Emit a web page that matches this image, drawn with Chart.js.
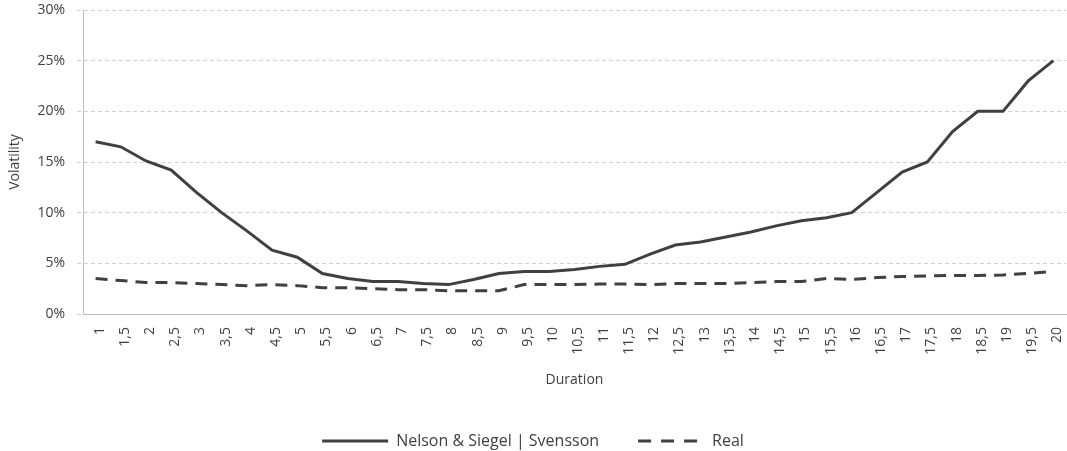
<!DOCTYPE html>
<html>
<head>
<meta charset="utf-8">
<script src="https://cdn.jsdelivr.net/npm/chart.js@4/dist/chart.umd.min.js"></script>
<style>
  html, body { margin: 0; padding: 0; background: #fff; }
  #wrap { width: 1067px; height: 451px; }
</style>
</head>
<body>
<div id="wrap"><canvas id="chart"></canvas></div>
<script>
// Durations (years), labels as printed with comma decimals
const durations = ["1", "1,5", "2", "2,5", "3", "3,5", "4", "4,5", "5", "5,5",
  "6", "6,5", "7", "7,5", "8", "8,5", "9", "9,5", "10", "10,5",
  "11", "11,5", "12", "12,5", "13", "13,5", "14", "14,5", "15", "15,5",
  "16", "16,5", "17", "17,5", "18", "18,5", "19", "19,5", "20"];

// Volatility in percent
const nelsonSiegel = [17.0, 16.5, 15.1, 14.2, 12.0, 10.0, 8.2, 6.3, 5.6, 4.0,
  3.5, 3.2, 3.2, 3.0, 2.9, 3.4, 4.0, 4.2, 4.2, 4.4,
  4.7, 4.9, 5.9, 6.8, 7.1, 7.6, 8.1, 8.7, 9.2, 9.5,
  10.0, 12.0, 14.0, 15.0, 18.0, 20.0, 20.0, 23.0, 25.0];

const real = [3.5, 3.3, 3.1, 3.1, 3.0, 2.9, 2.8, 2.9, 2.8, 2.6,
  2.6, 2.5, 2.4, 2.4, 2.3, 2.3, 2.3, 2.9, 2.9, 2.9,
  2.95, 2.95, 2.9, 3.0, 3.0, 3.0, 3.1, 3.2, 3.2, 3.5,
  3.4, 3.6, 3.7, 3.75, 3.8, 3.8, 3.85, 4.0, 4.2];

const yTicks = [0, 5, 10, 15, 20, 25, 30];

const textColor = "#404040";
const lineColor = "#404040";
const font = { family: "'Open Sans', sans-serif", size: 14 };

// legend samples: solid line and dashed line
const legendDashes = [[], [13, 10]];

const ctx = document.getElementById("chart").getContext("2d");
new Chart(ctx, {
  type: "line",
  data: {
    labels: durations,
    datasets: [
      {
        label: "Nelson & Siegel | Svensson",
        data: nelsonSiegel,
        borderColor: lineColor,
        backgroundColor: lineColor,
        borderWidth: 3,
        pointRadius: 0,
        tension: 0,
      },
      {
        label: "Real",
        data: real,
        borderColor: lineColor,
        backgroundColor: lineColor,
        borderWidth: 3,
        borderDash: [12, 8],
        pointRadius: 0,
        tension: 0,
      },
    ],
  },
  options: {
    responsive: true,
    maintainAspectRatio: false,
    animation: false,
    layout: { padding: { top: 10, right: 1, left: 0, bottom: -8 } },
    plugins: {
      tooltip: { enabled: false },
      legend: {
        position: "bottom",
        labels: {
          color: textColor,
          font: { family: font.family, size: 16 },
          usePointStyle: true,
          pointStyle: "line",
          pointStyleWidth: 66,
          boxWidth: 66,
          boxHeight: 12,
          padding: 39,
          generateLabels: (chart) => {
            const items = Chart.defaults.plugins.legend.labels.generateLabels(chart);
            items.forEach((item, i) => {
              item.lineDash = legendDashes[i];
              item.lineWidth = 3;
              item.strokeStyle = lineColor;
            });
            return items;
          },
        },
      },
    },
    scales: {
      x: {
        offset: true,
        grid: { display: false, drawTicks: false },
        border: { display: true, color: "#bfbfbf", width: 1 },
        ticks: {
          color: textColor,
          font: font,
          minRotation: 90,
          maxRotation: 90,
          autoSkip: false,
          padding: 13,
          labelOffset: 4,
        },
        title: {
          display: true,
          text: "Duration",
          color: textColor,
          font: font,
          padding: { top: 0, bottom: 6 },
        },
        afterFit: (scale) => {
          scale.height = 80;
          scale.paddingLeft = 0;
          scale.paddingRight = 0;
        },
      },
      y: {
        min: 0,
        max: 30,
        afterBuildTicks: (scale) => {
          scale.ticks = yTicks.map((v) => ({ value: v }));
        },
        grid: {
          color: "#d0d0d0",
          tickColor: "#d0d0d0",
          tickLength: 6,
          tickBorderDash: [4, 3],
        },
        border: { display: true, color: "#bfbfbf", width: 1, dash: [4, 3] },
        ticks: {
          color: textColor,
          font: font,
          padding: 12,
          callback: (v) => v + "%",
        },
        title: {
          display: true,
          text: "Volatility",
          color: textColor,
          font: font,
          padding: { top: 7, bottom: 0 },
        },
        afterFit: (scale) => {
          scale.width = 83;
          scale.paddingTop = 0;
          scale.paddingBottom = 0;
        },
      },
    },
  },
});
</script>
</body>
</html>
